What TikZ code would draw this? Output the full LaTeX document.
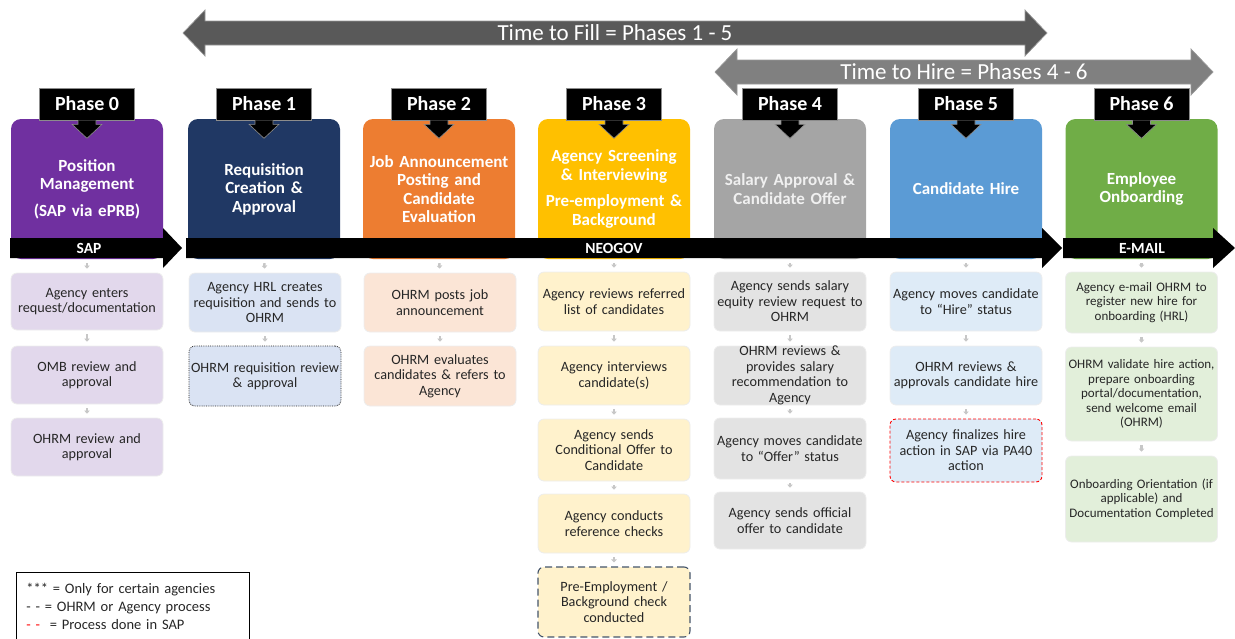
\documentclass[tikz,border=0pt]{standalone}
\usepackage{fontspec}
\setmainfont{Carlito}
\usetikzlibrary{arrows.meta}

\definecolor{pur}{HTML}{7030A0}
\definecolor{navy}{HTML}{203864}
\definecolor{orng}{HTML}{ED7D31}
\definecolor{gold}{HTML}{FFC000}
\definecolor{slate}{HTML}{A5A5A5}
\definecolor{sky}{HTML}{5B9BD5}
\definecolor{leaf}{HTML}{70AD47}
\definecolor{purl}{HTML}{E2D8EC}
\definecolor{navyl}{HTML}{DAE3F3}
\definecolor{orngl}{HTML}{FBE5D6}
\definecolor{goldl}{HTML}{FFF2CC}
\definecolor{slatel}{HTML}{E3E3E3}
\definecolor{skyl}{HTML}{DEEBF7}
\definecolor{leafl}{HTML}{E2EFDA}
\definecolor{txt}{HTML}{262626}
\definecolor{dashc}{HTML}{44546A}

\begin{document}
\begin{tikzpicture}[x=1pt,y=-1pt,
  phase/.style={rounded corners=10pt,minimum width=152pt,minimum height=140pt,text width=148pt,align=center,inner sep=0pt,text=white,font=\fontsize{17}{18.4}\selectfont\bfseries},
  tag/.style={fill=black,draw=black!45,line width=0.6pt,text=white,minimum width=95pt,minimum height=32pt,inner sep=0pt,font=\fontsize{20}{22}\selectfont\bfseries},
  task/.style={rounded corners=6pt,draw=black!7,line width=0.8pt,minimum width=152pt,minimum height=59pt,text width=151pt,align=center,inner xsep=0.5pt,inner ysep=0pt,text=txt,font=\fontsize{14.2}{15.5}\selectfont},
  small/.style={font=\fontsize{13}{14.6}\selectfont},
  link/.style={draw=black!22,line width=2.5pt,-{Triangle[length=3pt,width=5.5pt]},shorten <=4pt,shorten >=4pt},
  span/.style={draw=black!40,line width=0.7pt},
  spantext/.style={text=white,font=\fontsize{23}{25}\selectfont},
  bandtext/.style={text=white,font=\fontsize{15.5}{16}\selectfont\bfseries},
  key/.style={draw=black,line width=0.8pt,minimum width=233pt,minimum height=68pt,text width=213pt,align=left,inner xsep=10pt,inner ysep=0pt,text=txt,font=\fontsize{14.5}{18}\selectfont},
  notch/.pic={\fill[black,draw=black!45,line width=0.6pt] (-9,0) -- (-9,4) -- (-15,4) -- (0,18) -- (15,4) -- (9,4) -- (9,0);}
  ]
  \useasboundingbox (0,0) rectangle (1235,638);

  \filldraw[span,fill=black!65] (183,33) -- (205,10) -- (205,21) -- (1025,21) -- (1025,10) -- (1047,33) -- (1025,56) -- (1025,45) -- (205,45) -- (205,56) -- cycle;
  \node[spantext] (ttf) at (615,33) {Time to Fill = Phases 1 - 5};
  \filldraw[span,fill=black!50] (715,72) -- (737,49) -- (737,60) -- (1191,60) -- (1191,49) -- (1213,72) -- (1191,95) -- (1191,84) -- (737,84) -- (737,95) -- cycle;
  \node[spantext] (tth) at (964,72) {Time to Hire = Phases 4 - 6};

  \node[phase,fill=pur] (ph0) at (87,189) {Position\\Management\\[8pt](SAP via ePRB)};
  \node[phase,fill=navy] (ph1) at (264,189) {Requisition\\Creation \&\\Approval};
  \node[phase,fill=orng] (ph2) at (439,189) {Job Announcement\\Posting and\\Candidate\\Evaluation};
  \node[phase,fill=gold] (ph3) at (614,189) {Agency Screening\\\& Interviewing\\[8pt]Pre-employment \&\\Background};
  \node[phase,fill=slate,text=white!94!black] (ph4) at (790,189) {Salary Approval \&\\Candidate Offer};
  \node[phase,fill=sky] (ph5) at (966,189) {Candidate Hire};
  \node[phase,fill=leaf] (ph6) at (1141.5,189) {Employee\\Onboarding};

  \fill (10,238) -- (163,238) -- (163,228) -- (182,248) -- (163,268) -- (163,258) -- (10,258) -- cycle;
  \node[bandtext] (sap) at (89,248) {SAP};
  \fill (186,238) -- (1042,238) -- (1042,228) -- (1062,248) -- (1042,268) -- (1042,258) -- (186,258) -- cycle;
  \node[bandtext] (neogov) at (614,248) {NEOGOV};
  \fill (1063,238) -- (1213,238) -- (1213,228) -- (1235,248) -- (1213,268) -- (1213,258) -- (1063,258) -- cycle;
  \node[bandtext] (email) at (1142,248) {E-MAIL};

  \node[tag] (t0) at (87,104) {Phase 0};
  \node[tag] (t1) at (264,104) {Phase 1};
  \node[tag] (t2) at (439,104) {Phase 2};
  \node[tag] (t3) at (614,104) {Phase 3};
  \node[tag] (t4) at (790,104) {Phase 4};
  \node[tag] (t5) at (966,104) {Phase 5};
  \node[tag] (t6) at (1141.5,104) {Phase 6};
  \pic at (t0.south) {notch};
  \pic at (t1.south) {notch};
  \pic at (t2.south) {notch};
  \pic at (t3.south) {notch};
  \pic at (t4.south) {notch};
  \pic at (t5.south) {notch};
  \pic at (t6.south) {notch};

  \node[task,fill=purl,minimum height=57pt] (p0a) at (87,301.5) {Agency enters\\request/documentation};
  \node[task,fill=purl,minimum height=58pt] (p0b) at (87,375) {OMB review and\\approval};
  \node[task,fill=purl,minimum height=58pt] (p0c) at (87,447) {OHRM review and\\approval};

  \node[task,fill=navyl] (p1a) at (265,302.5) {Agency HRL creates\\requisition and sends to\\OHRM};
  \node[task,fill=navyl,draw=txt,densely dotted,minimum height=60pt] (p1b) at (265,376) {OHRM requisition review\\\& approval};

  \node[task,fill=orngl] (p2a) at (440,302.5) {OHRM posts job\\announcement};
  \node[task,fill=orngl,minimum height=60pt] (p2b) at (440,376) {OHRM evaluates\\candidates \& refers to\\Agency};

  \node[task,fill=goldl] (p3a) at (614,301.5) {Agency reviews referred\\list of candidates};
  \node[task,fill=goldl] (p3b) at (614,375.5) {Agency interviews\\candidate(s)};
  \node[task,fill=goldl,minimum height=62pt] (p3c) at (614,450) {Agency sends\\Conditional Offer to\\Candidate};
  \node[task,fill=goldl] (p3d) at (614,523.5) {Agency conducts\\reference checks};
  \node[task,fill=goldl,draw=dashc,dash pattern=on 7pt off 4pt,line width=1.1pt,minimum height=70pt] (p3e) at (614,602) {Pre-Employment /\\Background check\\conducted};

  \node[task,fill=slatel] (p4a) at (790,301.5) {Agency sends salary\\equity review request to\\OHRM};
  \node[task,fill=slatel] (p4b) at (790,375.5) {OHRM reviews \&\\provides salary\\recommendation to\\Agency};
  \node[task,fill=slatel,minimum height=61pt] (p4c) at (790,448.5) {Agency moves candidate\\to “Offer” status};
  \node[task,fill=slatel,minimum height=57pt] (p4d) at (790,520.5) {Agency sends official\\offer to candidate};

  \node[task,fill=skyl] (p5a) at (966,301.5) {Agency moves candidate\\to “Hire” status};
  \node[task,fill=skyl] (p5b) at (966,375.5) {OHRM reviews \&\\approvals candidate hire};
  \node[task,fill=skyl,draw=red,dash pattern=on 3pt off 2pt,line width=0.9pt,minimum height=63pt] (p5c) at (966,450.5) {Agency finalizes hire\\action in SAP via PA40\\action};

  \node[task,small,fill=leafl,minimum height=61pt] (p6a) at (1141.5,302.5) {Agency e-mail OHRM to\\register new hire for\\onboarding (HRL)};
  \node[task,small,fill=leafl,minimum height=94pt] (p6b) at (1141.5,394) {OHRM validate hire action,\\prepare onboarding\\portal/documentation,\\send welcome email\\(OHRM)};
  \node[task,small,fill=leafl,minimum height=86pt] (p6c) at (1141.5,499) {Onboarding Orientation (if\\applicable) and\\Documentation Completed};

  \draw[link] (ph0.south) -- (p0a.north);
  \draw[link] (p0a) -- (p0b);
  \draw[link] (p0b) -- (p0c);
  \draw[link] (ph1.south) -- (p1a.north);
  \draw[link] (p1a) -- (p1b);
  \draw[link] (ph2.south) -- (p2a.north);
  \draw[link] (p2a) -- (p2b);
  \draw[link] (ph3.south) -- (p3a.north);
  \draw[link] (p3a) -- (p3b);
  \draw[link] (p3b) -- (p3c);
  \draw[link] (p3c) -- (p3d);
  \draw[link] (p3d) -- (p3e);
  \draw[link] (ph4.south) -- (p4a.north);
  \draw[link] (p4a) -- (p4b);
  \draw[link] (p4b) -- (p4c);
  \draw[link] (p4c) -- (p4d);
  \draw[link] (ph5.south) -- (p5a.north);
  \draw[link] (p5a) -- (p5b);
  \draw[link] (p5b) -- (p5c);
  \draw[link] (ph6.south) -- (p6a.north);
  \draw[link] (p6a) -- (p6b);
  \draw[link] (p6b) -- (p6c);

  \node[key,anchor=north west] (legend) at (16,572) {*** = Only for certain agencies\\- - = OHRM or Agency process\\\textcolor{red}{- -}\ \ = Process done in SAP};
\end{tikzpicture}
\end{document}
